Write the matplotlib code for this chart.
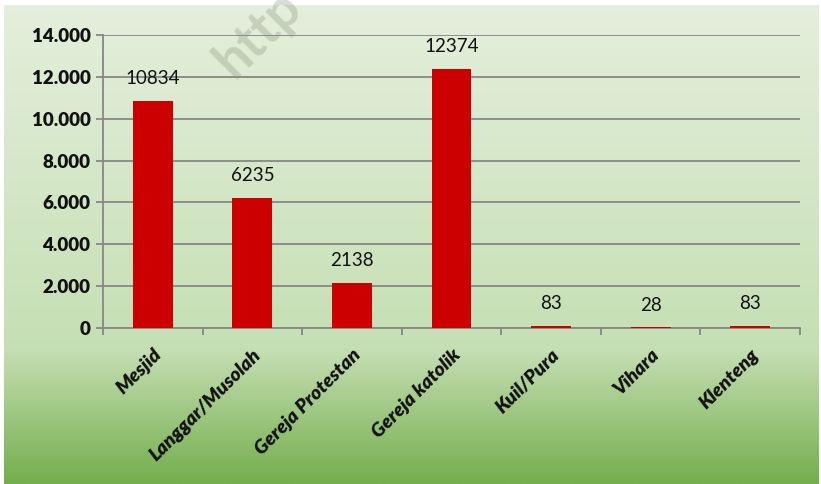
import matplotlib
matplotlib.use("Agg")
import matplotlib.pyplot as plt
import numpy as np
from matplotlib.colors import LinearSegmentedColormap
from matplotlib.ticker import FuncFormatter, FixedLocator

plt.rcParams["font.family"] = ["Lato", "DejaVu Sans"]

categories = ["Mesjid", "Langgar/Musolah", "Gereja Protestan", "Gereja katolik",
              "Kuil/Pura", "Vihara", "Klenteng"]
values = [10834, 6235, 2138, 12374, 83, 28, 83]
y_ticks = [0, 2000, 4000, 6000, 8000, 10000, 12000, 14000]

W, H = 821, 484
BAR = "#cc0000"
GRID = "#878787"

fig = plt.figure(figsize=(W / 100, H / 100), dpi=100)
fig.patch.set_facecolor("white")

# background gradient panel
bg = fig.add_axes([4 / W, 0, 814 / W, 479 / H], zorder=0)
bg.axis("off")
cmap = LinearSegmentedColormap.from_list(
    "bg", [(0.0, "#e4efdc"), (0.72, "#c5dfb3"), (1.0, "#74ae4d")])
grad = np.linspace(0, 1, 256).reshape(-1, 1)
bg.imshow(grad, cmap=cmap, aspect="auto", extent=[0, 1, 1, 0])

# watermark
fig.text(258 / W, 1 - 34 / H, "http", rotation=45, fontsize=38, fontweight="bold",
         color="#7f8f74", alpha=0.3, ha="center", va="center", zorder=1)

ax = fig.add_axes([103 / W, 1 - 328 / H, (800 - 103) / W, (328 - 35) / H], zorder=2)
ax.set_facecolor("none")

x = np.arange(len(categories))
bars = ax.bar(x, values, width=0.4, color=BAR, zorder=3)
for xi, v in zip(x, values):
    ax.annotate(str(v), (xi, v), xytext=(0, 10), textcoords="offset points",
                ha="center", va="bottom", fontsize=13.5, color="#111111")

ax.set_xlim(-0.5, len(categories) - 0.5)
ax.set_ylim(0, 14000)
ax.yaxis.set_major_locator(FixedLocator(y_ticks))
ax.yaxis.set_major_formatter(FuncFormatter(lambda v, p: f"{int(v):,}".replace(",", ".")))
ax.grid(axis="y", color=GRID, linewidth=1.3, zorder=1)
ax.set_axisbelow(True)

for s in ("top", "right"):
    ax.spines[s].set_visible(False)
for s in ("left", "bottom"):
    ax.spines[s].set_color(GRID)
    ax.spines[s].set_linewidth(1.3)

ax.tick_params(axis="y", length=5, width=1.3, color=GRID, pad=4)
for lab in ax.get_yticklabels():
    lab.set_fontweight("heavy")
    lab.set_fontsize(13.5)
    lab.set_color("#111111")

ax.set_xticks(x)
ax.set_xticklabels(categories, rotation=45, ha="right", va="top",
                   rotation_mode="anchor", fontsize=14, fontweight="heavy",
                   fontstyle="italic", color="#111111")
ax.tick_params(axis="x", which="major", length=0, pad=13)
ax.set_xticks(np.arange(-0.5, len(categories)), minor=True)
ax.tick_params(axis="x", which="minor", length=5, width=1.3, color=GRID)

fig.savefig("out.png", dpi=100)
